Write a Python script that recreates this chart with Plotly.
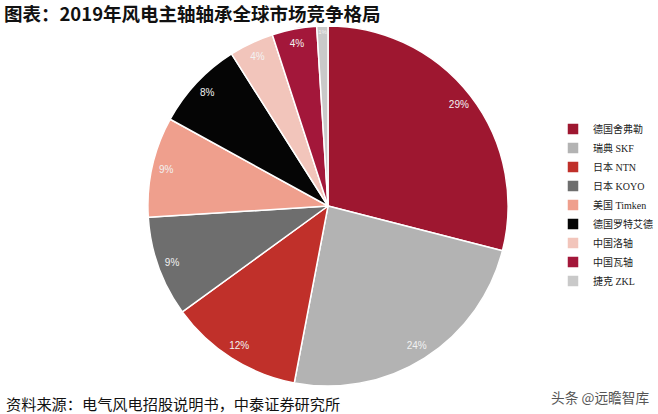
import plotly.graph_objects as go

labels = ["德国舍弗勒", "瑞典 SKF", "日本 NTN", "日本 KOYO", "美国 Timken",
          "德国罗特艾德", "中国洛轴", "中国瓦轴", "捷克 ZKL"]
values = [29, 24, 12, 9, 9, 8, 4, 4, 1]
colors = ["#9E1730", "#B3B3B3", "#C0302A", "#6E6E6E", "#EF9F8D",
          "#050505", "#F2C5BB", "#A3173A", "#C9C9C9"]

dom = dict(x=[0.2, 0.797], y=[0.0674, 0.9374])

fig = go.Figure()
fig.add_trace(go.Pie(
    labels=labels, values=values, sort=False, direction="clockwise", rotation=0,
    marker=dict(colors=colors, line=dict(color="white", width=1.5)),
    textinfo="none", hoverinfo="label+percent", domain=dom,
))
# label ring: transparent donut used only to place the percentage labels near the rim
fig.add_trace(go.Pie(
    labels=labels, values=values, sort=False, direction="clockwise", rotation=0,
    hole=0.84, showlegend=False, hoverinfo="skip",
    marker=dict(colors=["rgba(0,0,0,0)"] * len(values), line=dict(width=0)),
    texttemplate="%{value}%", textposition="inside", insidetextorientation="horizontal",
    textfont=dict(color="#F2F2F2", size=10, family="Liberation Sans"),
    domain=dom,
))

fig.update_layout(
    width=658, height=414,
    margin=dict(l=0, r=0, t=0, b=0),
    paper_bgcolor="white",
    showlegend=True,
    title=dict(text="<b>图表：2019年风电主轴轴承全球市场竞争格局</b>",
               x=0.006, xref="container", xanchor="left",
               y=0.966, yref="container", yanchor="middle",
               font=dict(size=18.5, family="Noto Sans CJK SC", color="#111")),
    legend=dict(x=1.0, y=0.505, xanchor="right", yanchor="middle",
                font=dict(size=10, family="Liberation Serif, Noto Sans CJK SC", color="#222"),
                itemwidth=30, tracegroupgap=0, bgcolor="rgba(0,0,0,0)"),
    annotations=[
        dict(text="资料来源：电气风电招股说明书，中泰证券研究所", x=0.006, y=0.026,
             xref="paper", yref="paper", xanchor="left", yanchor="middle", showarrow=False,
             font=dict(size=15.2, family="Noto Sans CJK SC", color="#111")),
        dict(text="头条 @远瞻智库", x=0.99, y=0.041,
             xref="paper", yref="paper", xanchor="right", yanchor="middle", showarrow=False,
             font=dict(size=13.7, family="Noto Sans CJK SC", color="#555")),
    ],
)

fig.write_html("out.html", config={"displayModeBar": False},
               post_script="document.body.style.margin='0';document.body.style.overflow='hidden';")
